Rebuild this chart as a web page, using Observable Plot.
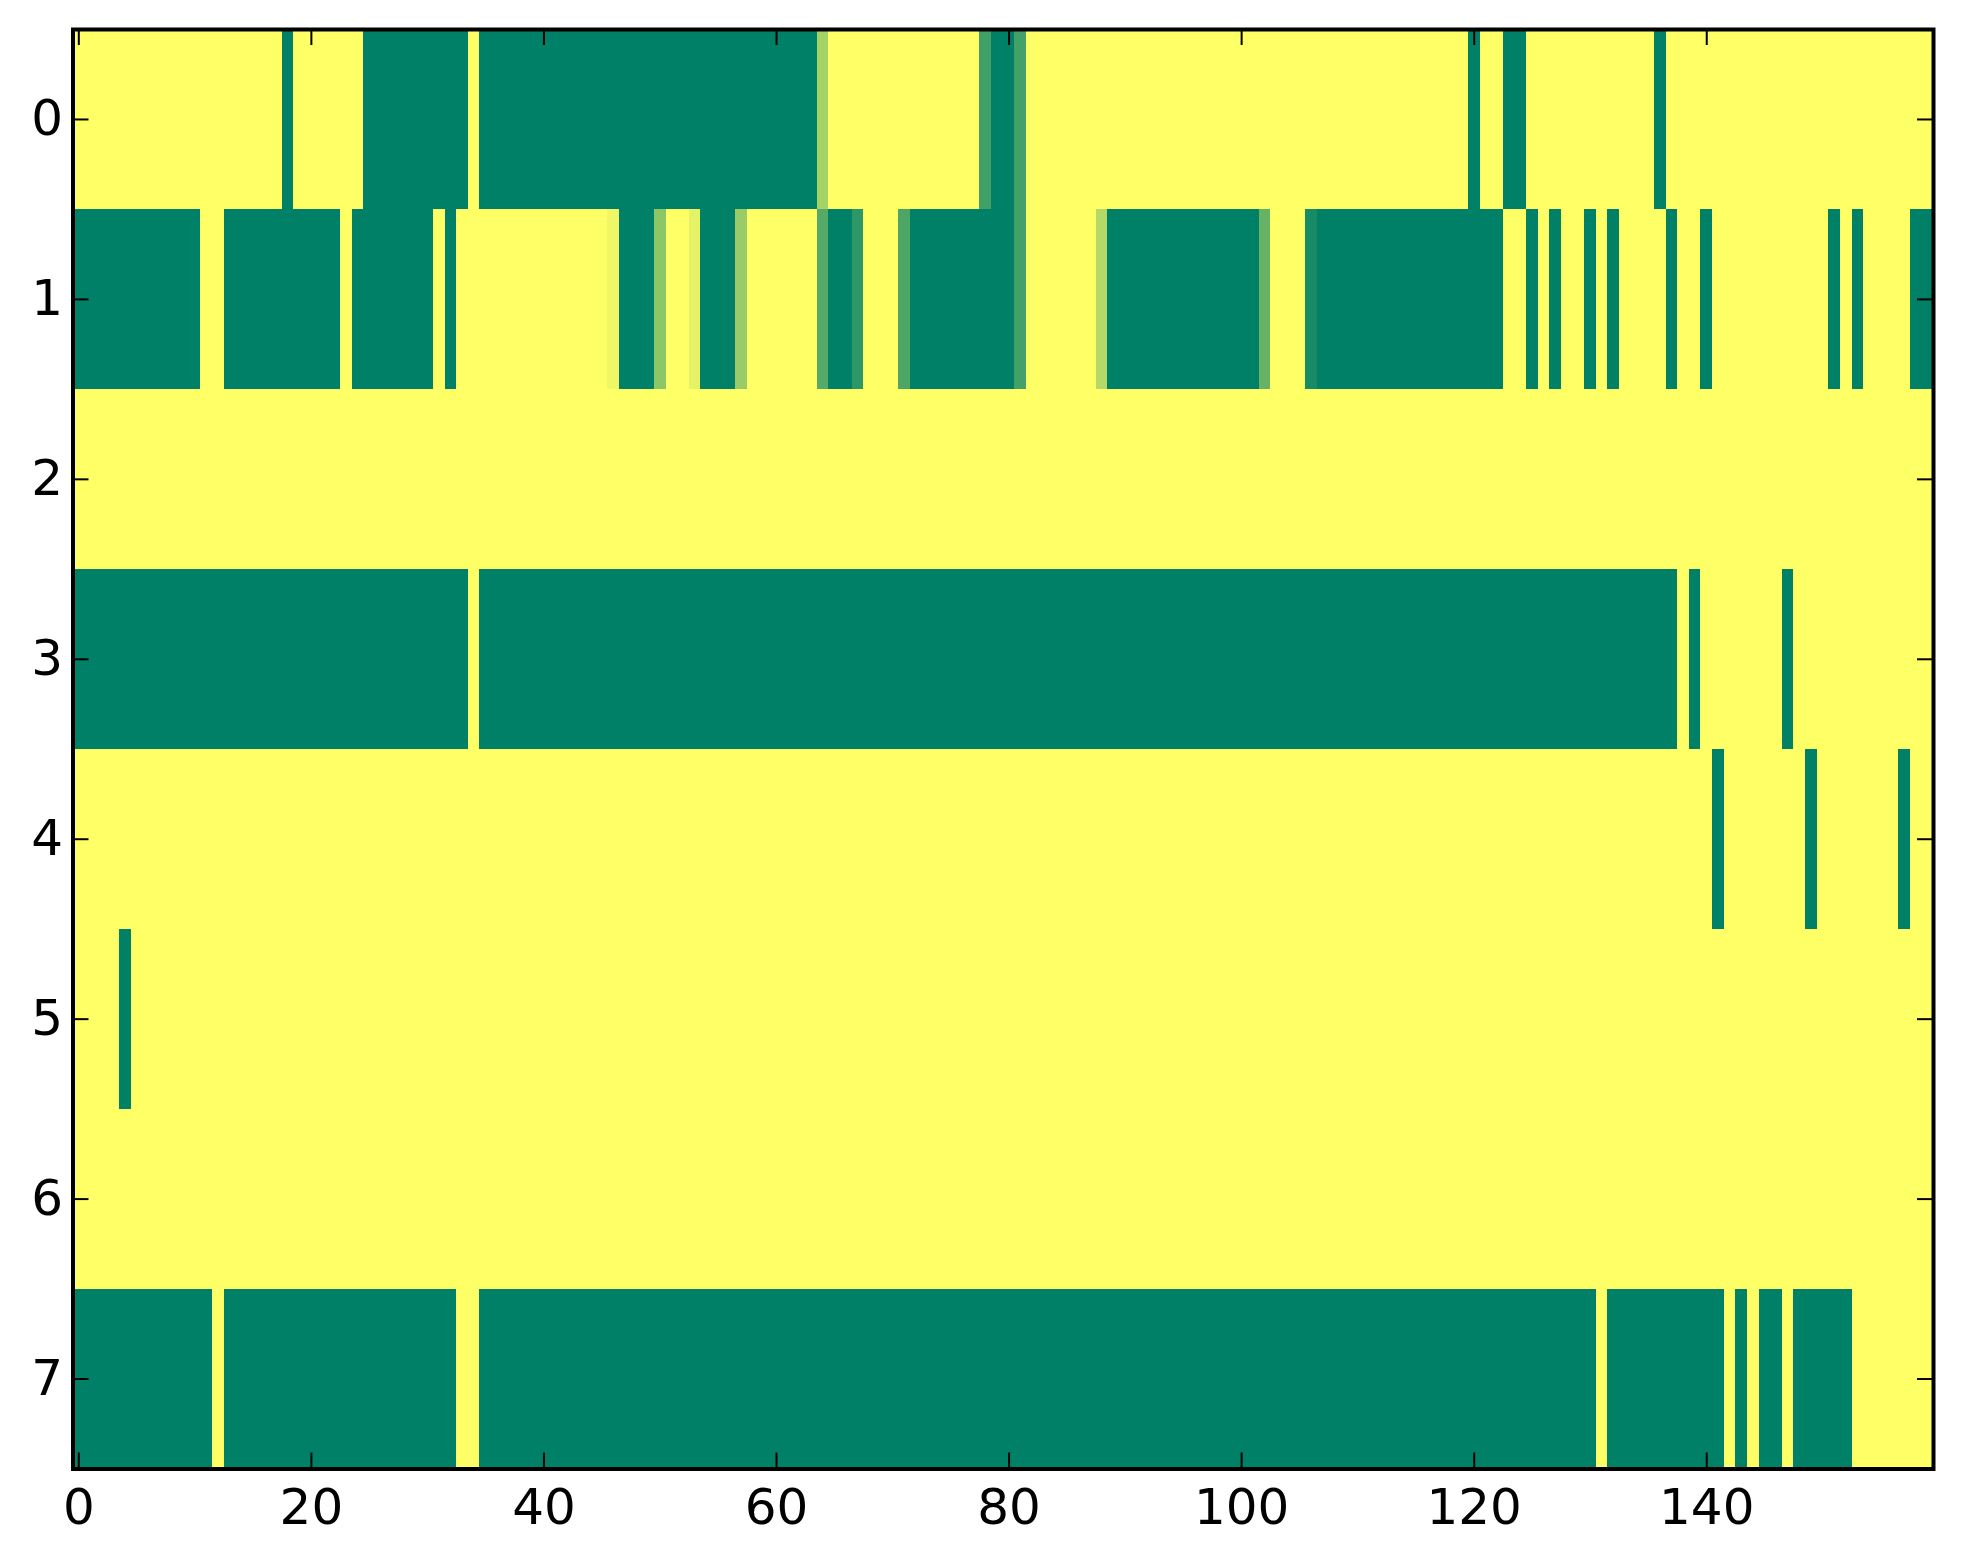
<!DOCTYPE html>
<html>
<head>
<meta charset="utf-8">
<script src="https://cdn.jsdelivr.net/npm/d3@7"></script>
<script src="https://cdn.jsdelivr.net/npm/@observablehq/plot@0.6"></script>
<style>
  html, body { margin: 0; padding: 0; background: #fff; }
  #chart { width: 1963px; height: 1564px; }
</style>
</head>
<body>
<div id="chart"></div>
<script>
// Column count and tick labels
const nCols = 160;
const rowLabels = [0, 1, 2, 3, 4, 5, 6, 7];
const xTicks = [0, 20, 40, 60, 80, 100, 120, 140];

// Each row: runs of [firstColumn, lastColumn, value] (0 = green, 1 = yellow)
const row0 = [[0,17,1],[18,18,0],[19,24,1],[25,33,0],[34,34,1],[35,63,0],[64,64,0.65],[65,77,1],[78,78,0.25],[79,80,0],[81,81,0.26],[82,119,1],[120,120,0],[121,122,1],[123,124,0],[125,135,1],[136,136,0],[137,159,1]];
const row1 = [[0,10,0],[11,12,1],[13,22,0],[23,23,1],[24,30,0],[31,31,1],[32,32,0],[33,45,1],[46,46,0.94],[47,49,0],[50,50,0.55],[51,52,1],[53,53,0.9],[54,56,0],[57,57,0.6],[58,63,1],[64,64,0.33],[65,66,0],[67,67,0.18],[68,70,1],[71,71,0.3],[72,80,0],[81,81,0.26],[82,87,1],[88,88,0.7],[89,101,0],[102,102,0.4],[103,105,1],[106,106,0.09],[107,122,0],[123,124,1],[125,125,0],[126,126,1],[127,127,0],[128,129,1],[130,130,0],[131,131,1],[132,132,0],[133,136,1],[137,137,0],[138,139,1],[140,140,0],[141,150,1],[151,151,0],[152,152,1],[153,153,0],[154,157,1],[158,159,0]];
const row2 = [[0,159,1]];
const row3 = [[0,33,0],[34,34,1],[35,137,0],[138,138,1],[139,139,0],[140,146,1],[147,147,0],[148,159,1]];
const row4 = [[0,140,1],[141,141,0],[142,148,1],[149,149,0],[150,156,1],[157,157,0],[158,159,1]];
const row5 = [[0,3,1],[4,4,0],[5,159,1]];
const row6 = [[0,159,1]];
const row7 = [[0,11,0],[12,12,1],[13,32,0],[33,34,1],[35,130,0],[131,131,1],[132,141,0],[142,142,1],[143,143,0],[144,144,1],[145,146,0],[147,147,1],[148,152,0],[153,159,1]];

const rowsData = [row0, row1, row2, row3, row4, row5, row6, row7];
const segments = rowsData.flatMap((segs, r) => segs.map(([a, b, v]) => ({r, a, b, v})));

// Layout
const W = 1963, H = 1564;
const mL = 72.5, mR = 30, mT = 29, mB = 95.5;
const plotW = W - mL - mR, plotH = H - mT - mB;
const tickLen = 16;

const chart = Plot.plot({
  width: W,
  height: H,
  marginLeft: mL,
  marginRight: mR,
  marginTop: mT,
  marginBottom: mB,
  style: {fontFamily: "DejaVu Sans", fontSize: "50px", background: "#fff", color: "#000"},
  x: {domain: [-0.5, nCols - 0.5]},
  y: {domain: [-0.5, rowLabels.length - 0.5], reverse: true},
  color: {type: "linear", domain: [0, 1], range: ["#008066", "#ffff66"], interpolate: "rgb"},
  marks: [
    Plot.rect(segments, {
      x1: d => d.a - 0.5, x2: d => d.b + 0.5,
      y1: d => d.r - 0.5, y2: d => d.r + 0.5,
      fill: "v", shapeRendering: "crispEdges"
    }),
    // inward ticks on all four sides
    Plot.tickX(xTicks, {x: d => d, insetTop: plotH - tickLen, stroke: "#000", strokeWidth: 2}),
    Plot.tickX(xTicks, {x: d => d, insetBottom: plotH - tickLen, stroke: "#000", strokeWidth: 2}),
    Plot.tickY(rowLabels, {y: d => d, insetRight: plotW - tickLen, stroke: "#000", strokeWidth: 2}),
    Plot.tickY(rowLabels, {y: d => d, insetLeft: plotW - tickLen, stroke: "#000", strokeWidth: 2}),
    Plot.frame({stroke: "#000", strokeWidth: 4}),
    Plot.axisX({ticks: xTicks, tickSize: 0, tickPadding: 19, label: null, fontSize: 50}),
    Plot.axisY({ticks: rowLabels, tickSize: 0, tickPadding: 10, label: null, fontSize: 50})
  ]
});
document.getElementById("chart").appendChild(chart);
</script>
</body>
</html>
